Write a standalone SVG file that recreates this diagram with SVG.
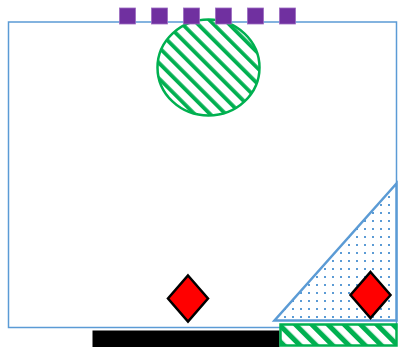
<svg xmlns="http://www.w3.org/2000/svg" width="398" height="348" viewBox="0 0 398 348">
<style>
.sq{fill:#7030A0;stroke:#9b6cc0;stroke-width:0.8}
.dia{fill:#FF0000;stroke:#000;stroke-width:2.5;stroke-linejoin:miter}
</style>
<defs>
<pattern id="hatchC" width="11" height="11" patternUnits="userSpaceOnUse" patternTransform="rotate(-45)">
<rect width="11" height="11" fill="#fff"/>
<rect x="0" y="0" width="3.8" height="11" fill="#00B050"/>
</pattern>
<pattern id="hatchR" width="11.5" height="11.5" patternUnits="userSpaceOnUse" patternTransform="rotate(-45)">
<rect width="11.5" height="11.5" fill="#fff"/>
<rect x="0" y="0" width="5" height="11.5" fill="#00B050"/>
</pattern>
<pattern id="dots" width="8" height="8" patternUnits="userSpaceOnUse" x="1" y="1">
<rect width="8" height="8" fill="#fff"/>
<rect x="3" y="3" width="2" height="2" fill="#5B9BD5"/>
</pattern>
</defs>
<rect x="0" y="0" width="398" height="348" fill="#fff"/>
<g id="frame"><rect x="8.5" y="22" width="388" height="305.5" fill="none" stroke="#5B9BD5" stroke-width="1.5"/></g>
<g id="circle"><ellipse cx="208.5" cy="67.5" rx="51" ry="48" fill="url(#hatchC)" stroke="#00B050" stroke-width="2.5"/></g>
<g id="squares">
<rect class="sq" x="119.5" y="8" width="16" height="16"/>
<rect class="sq" x="151.5" y="8" width="16" height="16"/>
<rect class="sq" x="183.5" y="8" width="16" height="16"/>
<rect class="sq" x="215.5" y="8" width="16" height="16"/>
<rect class="sq" x="247.5" y="8" width="16" height="16"/>
<rect class="sq" x="279.5" y="8" width="16" height="16"/>
</g>
<g id="triangle"><polygon points="274.5,320.5 396.5,320.5 396.5,183.5" fill="url(#dots)" stroke="#5B9BD5" stroke-width="2.5"/></g>
<g id="diamond1"><polygon class="dia" points="188,275.5 208,298.5 188,321.5 168,298.5"/></g>
<g id="diamond2"><polygon class="dia" points="370.5,272 390.5,295 370.5,318 350.5,295"/></g>
<g id="blackbar"><rect x="92.5" y="330.5" width="187" height="16.5" fill="#000"/></g>
<g id="greenbar"><rect x="280.5" y="324.5" width="116" height="21" fill="url(#hatchR)" stroke="#00B050" stroke-width="2.5"/></g>
</svg>
